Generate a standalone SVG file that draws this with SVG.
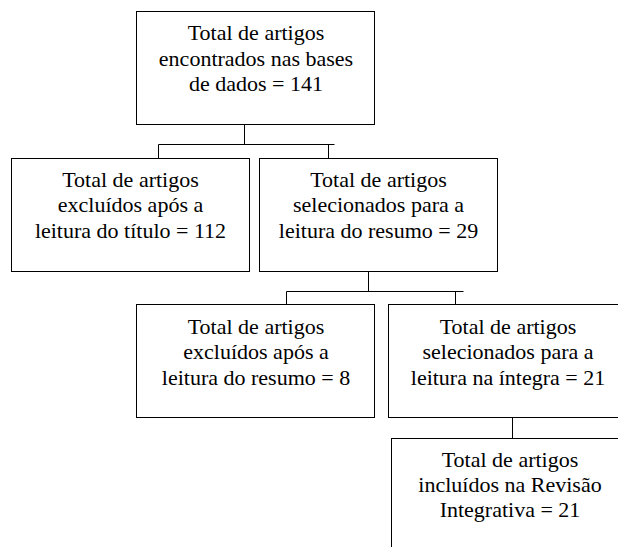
<svg xmlns="http://www.w3.org/2000/svg" width="618" height="547" viewBox="0 0 618 547">
<rect width="618" height="547" fill="#fff"/>
<g id="connectors" fill="none" stroke="#000" stroke-width="1">
<path d="M244.5 124.5V144.5"/>
<path d="M158.5 144.5H334.5"/>
<path d="M158.5 144.5V158.5"/>
<path d="M328.5 144.5V158.5"/>
<path d="M368.5 271.5V291.5"/>
<path d="M286.5 291.5H463.5"/>
<path d="M286.5 291.5V304.5"/>
<path d="M455.5 291.5V304.5"/>
<path d="M512.5 417.5V438.5"/>
</g>
<g id="n-total">
<rect fill="#fff" stroke="#000" x="136.5" y="11.5" width="238" height="113"/>
<text font-family="Liberation Serif" font-size="22" text-anchor="middle" x="256" y="40">Total de artigos</text>
<text font-family="Liberation Serif" font-size="22" text-anchor="middle" x="256" y="65.7">encontrados nas bases</text>
<text font-family="Liberation Serif" font-size="22" text-anchor="middle" x="256" y="91.4">de dados = 141</text>
</g>
<g id="n-excl-titulo">
<rect fill="#fff" stroke="#000" x="11.5" y="158.5" width="238" height="113"/>
<text font-family="Liberation Serif" font-size="22" text-anchor="middle" x="130.5" y="186.5">Total de artigos</text>
<text font-family="Liberation Serif" font-size="22" text-anchor="middle" x="130.5" y="212.2">excluídos após a</text>
<text font-family="Liberation Serif" font-size="22" text-anchor="middle" x="130.5" y="237.9">leitura do título = 112</text>
</g>
<g id="n-sel-resumo">
<rect fill="#fff" stroke="#000" x="259.5" y="158.5" width="238" height="113"/>
<text font-family="Liberation Serif" font-size="22" text-anchor="middle" x="378.5" y="186.5">Total de artigos</text>
<text font-family="Liberation Serif" font-size="22" text-anchor="middle" x="378.5" y="212.2">selecionados para a</text>
<text font-family="Liberation Serif" font-size="22" text-anchor="middle" x="378.5" y="237.9">leitura do resumo = 29</text>
</g>
<g id="n-excl-resumo">
<rect fill="#fff" stroke="#000" x="136.5" y="304.5" width="238" height="113"/>
<text font-family="Liberation Serif" font-size="22" text-anchor="middle" x="256" y="334">Total de artigos</text>
<text font-family="Liberation Serif" font-size="22" text-anchor="middle" x="256" y="359.3">excluídos após a</text>
<text font-family="Liberation Serif" font-size="22" text-anchor="middle" x="256" y="384.6">leitura do resumo = 8</text>
</g>
<g id="n-sel-integra">
<rect fill="#fff" stroke="#000" x="388.5" y="304.5" width="238" height="113"/>
<text font-family="Liberation Serif" font-size="22" text-anchor="middle" x="508" y="334">Total de artigos</text>
<text font-family="Liberation Serif" font-size="22" text-anchor="middle" x="508" y="359.3">selecionados para a</text>
<text font-family="Liberation Serif" font-size="22" text-anchor="middle" x="508" y="384.6">leitura na íntegra = 21</text>
</g>
<g id="n-incluidos">
<rect fill="#fff" stroke="#000" x="391.5" y="438.5" width="238" height="130"/>
<text font-family="Liberation Serif" font-size="22" text-anchor="middle" x="510" y="466.5">Total de artigos</text>
<text font-family="Liberation Serif" font-size="22" text-anchor="middle" x="510" y="491.8">incluídos na Revisão</text>
<text font-family="Liberation Serif" font-size="22" text-anchor="middle" x="510" y="517.1">Integrativa = 21</text>
</g>
</svg>
